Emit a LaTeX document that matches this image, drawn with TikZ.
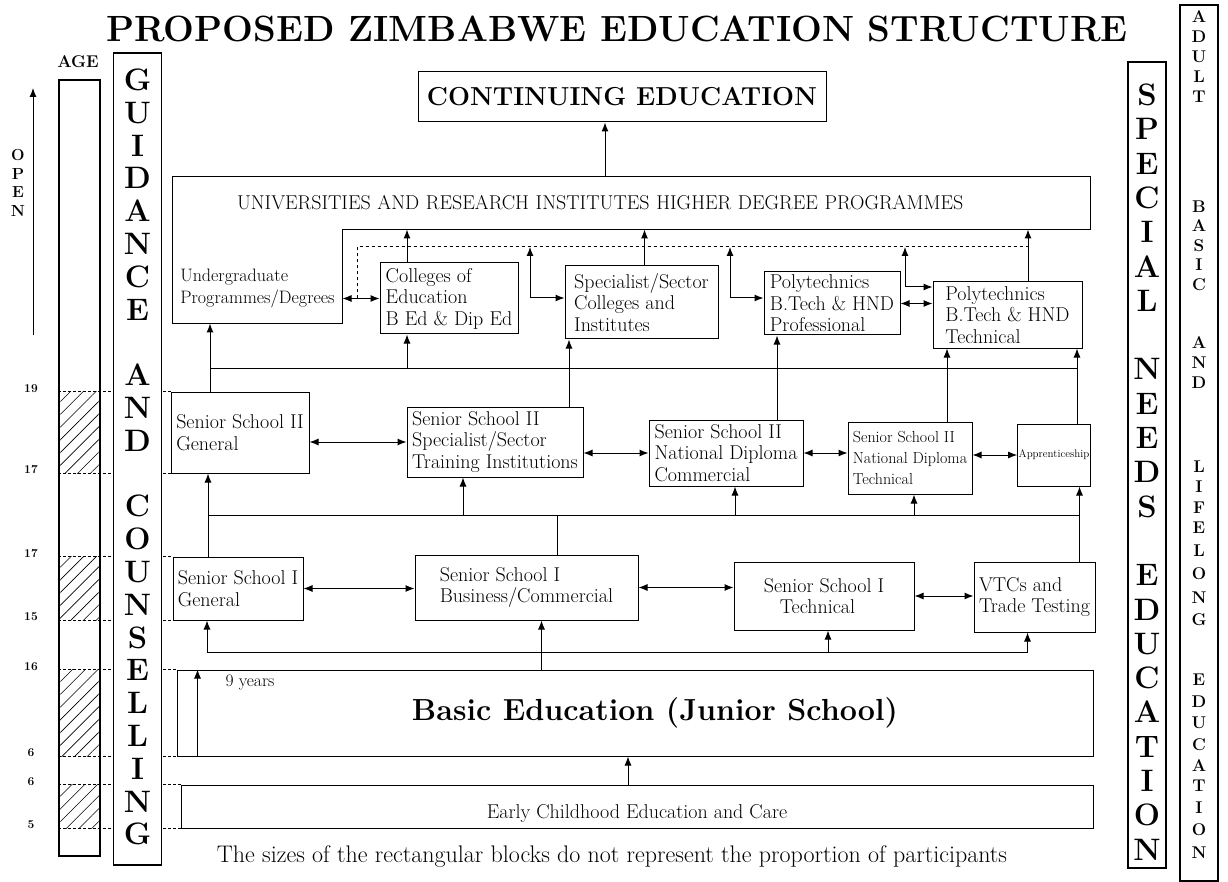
\documentclass[tikz,border=0pt]{standalone}
\usepackage{tikz}
\usetikzlibrary{arrows.meta,patterns.meta}

\begin{document}
\begin{tikzpicture}[
  x=1pt, y=-1pt,
  line width=1pt,
  >={Latex[length=9pt,width=7pt]},
  every node/.style={font=\fontsize{20}{21.5}\selectfont},
  box/.style={rectangle, draw, line width=1pt, inner sep=2pt, align=left},
  column/.style={rectangle, draw, line width=1.2pt, fill=white, inner sep=0pt},
  bigletter/.style={font=\bfseries\fontsize{31}{31}\selectfont, inner sep=0pt},
  smallletter/.style={font=\bfseries\fontsize{17}{17}\selectfont, inner sep=0pt},
  agenum/.style={font=\bfseries\fontsize{12}{12}\selectfont, inner sep=0pt},
  ageline/.style={densely dashed, line width=0.5pt},
  hatch/.style={pattern={Lines[angle=45,distance=9pt,line width=0.6pt]}}
]
  \useasboundingbox (0,0) rectangle (1228,882);

  \node[font=\bfseries\fontsize{36.5}{40}\selectfont] (title) at (617,29) {PROPOSED ZIMBABWE EDUCATION STRUCTURE};
  \node[font=\bfseries\fontsize{17}{17}\selectfont] (agehead) at (78,62) {AGE};
  \node[font=\bfseries\fontsize{16}{18.5}\selectfont, align=center] (open) at (18,183) {O\\P\\E\\N};
  \coordinate (opentop) at (33,88);
  \coordinate (openbot) at (33,335);
  \draw[->] (openbot) -- (opentop);

  \node[draw, line width=1.2pt, inner sep=0pt, minimum width=41, minimum height=776] (agebar) at (79.5,468) {};

  % higher education
  \node[box, minimum width=408, minimum height=50, align=center, font=\bfseries\fontsize{26}{26}\selectfont] (cont) at (622,97) {CONTINUING EDUCATION};
  \node[inner sep=0pt, minimum width=917, minimum height=52, text width=789pt, align=left, font=\fontsize{20}{20}\selectfont] (univ) at (631.5,203) {UNIVERSITIES AND RESEARCH INSTITUTES HIGHER DEGREE PROGRAMMES};
  \node[inner sep=2pt, minimum width=169, minimum height=70, align=left, font=\fontsize{18}{22}\selectfont] (ugrad) at (257.5,288) {Undergraduate\\Programmes/Degrees};
  \draw (univ.north west) -- (univ.north east) -- (univ.south east) -| (ugrad.south east) -- (ugrad.south west) -- cycle;

  \node[box, minimum width=138, minimum height=71] (colle) at (449,298.5) {Colleges of\\Education\\B Ed \& Dip Ed};
  \node[box, minimum width=153, minimum height=73] (spec) at (641.5,302.5) {Specialist/Sector\\Colleges and\\Institutes};
  \node[box, minimum width=136, minimum height=63] (polyp) at (832,303.5) {Polytechnics\\B.Tech \& HND\\Professional};
  \node[box, minimum width=149, minimum height=66] (polyt) at (1007.5,315) {Polytechnics\\B.Tech \& HND\\Technical};

  % senior school II
  \node[box, minimum width=138, minimum height=81] (ssiig) at (240,432.5) {Senior School II\\General};
  \node[box, minimum width=176, minimum height=70] (ssiis) at (495,442) {Senior School II\\Specialist/Sector\\Training Institutions};
  \node[box, minimum width=154, minimum height=66] (ssiic) at (726,453) {Senior School II\\National Diploma\\Commercial};
  \node[box, minimum width=124, minimum height=72, font=\fontsize{16}{21}\selectfont] (ssiit) at (910,458) {Senior School II\\National Diploma\\Technical};
  \node[box, minimum width=72, minimum height=62, inner sep=1pt, font=\fontsize{11}{13}\selectfont] (appr) at (1054,455) {Apprenticeship};

  % senior school I
  \node[box, minimum width=130, minimum height=63] (ssig) at (238,588.5) {Senior School I\\General};
  \node[box, minimum width=223, minimum height=65] (ssib) at (526.5,587.5) {Senior School I\\Business/Commercial};
  \node[box, minimum width=180, minimum height=68] (ssit) at (824,596) {Senior School I\\\hspace*{0.8em}Technical};
  \node[box, minimum width=121, minimum height=70] (vtc) at (1034.5,597) {VTCs and\\Trade Testing};

  % basic and early years
  \node[box, minimum width=916, minimum height=86, align=center, font=\bfseries\fontsize{30.5}{32}\selectfont] (basic) at (635,713) {\hspace*{40pt}Basic Education (Junior School)};
  \node[box, minimum width=912, minimum height=43, align=center, text height=26pt, text depth=2pt, font=\fontsize{20}{22}\selectfont] (ece) at (637,806.5) {Early Childhood Education and Care};
  \node[font=\fontsize{17.5}{17.5}\selectfont] (yrs) at (250,682) {9 years};
  \node[font=\fontsize{24}{24}\selectfont] (note) at (612,857) {The sizes of the rectangular blocks do not represent the proportion of participants};

  \coordinate (bus1) at (0,368);
  \coordinate (bus2) at (0,515);
  \coordinate (bus3) at (0,652);
  \coordinate (dl) at (357,247);
  \coordinate (dr) at (1028,247);
  \coordinate (g1) at (530,298);
  \coordinate (g2) at (730,298);
  \coordinate (g3) at (905,287);

  \draw[->] ([xshift=-17pt]cont.south |- univ.north) -- ([xshift=-17pt]cont.south);
  \draw[->] ([xshift=-42pt]colle.north) -- ([xshift=-42pt]colle.north |- univ.south);
  \draw[->] ([xshift=3pt]spec.north) -- ([xshift=3pt]spec.north |- univ.south);
  \draw[->] (dr |- polyt.north) -- (dr |- univ.south);
  \draw[<->] (colle.west -| ugrad.east) -- (colle.west);
  \draw[dashed] (dl |- colle.west) -- (dl) -- (dr);
  \foreach \g/\t in {g1/spec, g2/polyp, g3/polyt} {
    \draw[->] (\g) -- (\g |- dl);
    \draw[->] (\g) -- (\g -| \t.west);
  }
  \draw[<->] (polyp.east) -- (polyp.east -| polyt.west);

  \draw[->] ([xshift=-30pt]ssiig.north) -- ([xshift=-30pt]ssiig.north |- ugrad.south);
  \draw ([xshift=-30pt]ssiig.north |- bus1) -- ([xshift=23pt]appr.north |- bus1);
  \draw[->] ([xshift=-42pt]colle.south |- bus1) -- ([xshift=-42pt]colle.south);
  \draw[->] ([xshift=74pt]ssiis.north) -- ([xshift=74pt]ssiis.north |- spec.south);
  \draw[->] ([xshift=51pt]ssiic.north) -- ([xshift=51pt]ssiic.north |- polyp.south);
  \draw[->] ([xshift=37pt]ssiit.north) -- ([xshift=37pt]ssiit.north |- polyt.south);
  \draw[->] ([xshift=23pt]appr.north) -- ([xshift=23pt]appr.north |- polyt.south);

  \draw[<->] (ssiis.west -| ssiig.east) -- (ssiis.west);
  \draw[<->] (ssiic.west -| ssiis.east) -- (ssiic.west);
  \draw[<->] (ssiic.east) -- (ssiic.east -| ssiit.west);
  \draw[<->] (appr.west -| ssiit.east) -- (appr.west);

  \draw[->] ([xshift=-30pt]ssig.north) -- ([xshift=-30pt]ssig.north |- ssiig.south);
  \draw ([xshift=-30pt]ssig.north |- bus2) -- ([xshift=45pt]vtc.north |- bus2);
  \draw ([xshift=31pt]ssib.north) -- ([xshift=31pt]ssib.north |- bus2);
  \draw[->] ([xshift=-32pt]ssiis.south |- bus2) -- ([xshift=-32pt]ssiis.south);
  \draw[->] ([xshift=9pt]ssiic.south |- bus2) -- ([xshift=9pt]ssiic.south);
  \draw[->] ([xshift=4pt]ssiit.south |- bus2) -- ([xshift=4pt]ssiit.south);
  \draw[->] ([xshift=45pt]vtc.north) -- ([xshift=45pt]vtc.north |- appr.south);

  \draw[<->] (ssig.east) -- (ssig.east -| ssib.west);
  \draw[<->] (ssib.east) -- (ssib.east -| ssit.west);
  \draw[<->] (ssit.east) -- (ssit.east -| vtc.west);

  \draw[<->] ([xshift=-31pt]ssig.south) |- ([xshift=-7pt]vtc.south |- bus3) -- ([xshift=-7pt]vtc.south);
  \draw[->] ([xshift=4pt]ssit.south |- bus3) -- ([xshift=4pt]ssit.south);
  \draw[->] ([xshift=15pt]ssib.south |- basic.north) -- ([xshift=15pt]ssib.south);
  \draw[->] ([xshift=21pt]basic.south west) -- ([xshift=21pt]basic.north west);
  \draw[->] ([xshift=-9pt]ece.north) -- ([xshift=-9pt]ece.north |- basic.south);

  % ages
  \foreach \b in {ssiig, ssig, basic, ece}
    \fill[hatch] (agebar.west |- \b.north) rectangle (agebar.east |- \b.south);
  \foreach \b in {ssiig.north west, ssiig.south west, ssig.north west, ssig.south west, basic.north west, basic.south west, ece.north west, ece.south west}
    \draw[ageline] (agebar.west |- \b) -- (\b);
  \foreach \a/\y [count=\i] in {19/389, 17/470, 17/554, 15/617, 16/667, 6/753, 6/782, 5/825}
    \node[agenum] (age\i) at (31,\y) {\a};

  % side columns
  \node[column, minimum width=48, minimum height=812] (guide) at (137.5,459) {};
  \foreach \ch/\y in {G/80, U/113, I/146, D/178, A/211, N/244, C/277, E/310, A/375, N/408, D/441, C/506, O/539, U/572, N/605, S/638, E/670, L/703, L/736, I/769, N/802, G/834}
    \node[bigletter] (gc\y) at (137.5,\y) {\ch};

  \node[column, minimum width=38, minimum height=806] (sne) at (1147,465) {};
  \foreach \ch/\y in {S/95, P/129, E/164, C/198, I/232, A/267, L/301, N/369, E/404, E/438, D/472, S/507, E/575, D/610, U/644, C/678, A/712, T/747, I/781, O/815, N/850}
    \node[bigletter] (sn\y) at (1147,\y) {\ch};

  \node[column, minimum width=38, minimum height=876] (adult) at (1199,443) {};
  \foreach \ch/\y in {A/17, D/37, U/57, L/77, T/97, B/207, A/226, S/246, I/265, C/285, A/343, N/363, D/383, L/467, I/487, F/508, E/528, L/551, O/574, N/598, G/620, E/680, D/702, U/723, C/745, A/766, T/786, I/808, O/830, N/853}
    \node[smallletter] (ab\y) at (1199,\y) {\ch};
\end{tikzpicture}
\end{document}
